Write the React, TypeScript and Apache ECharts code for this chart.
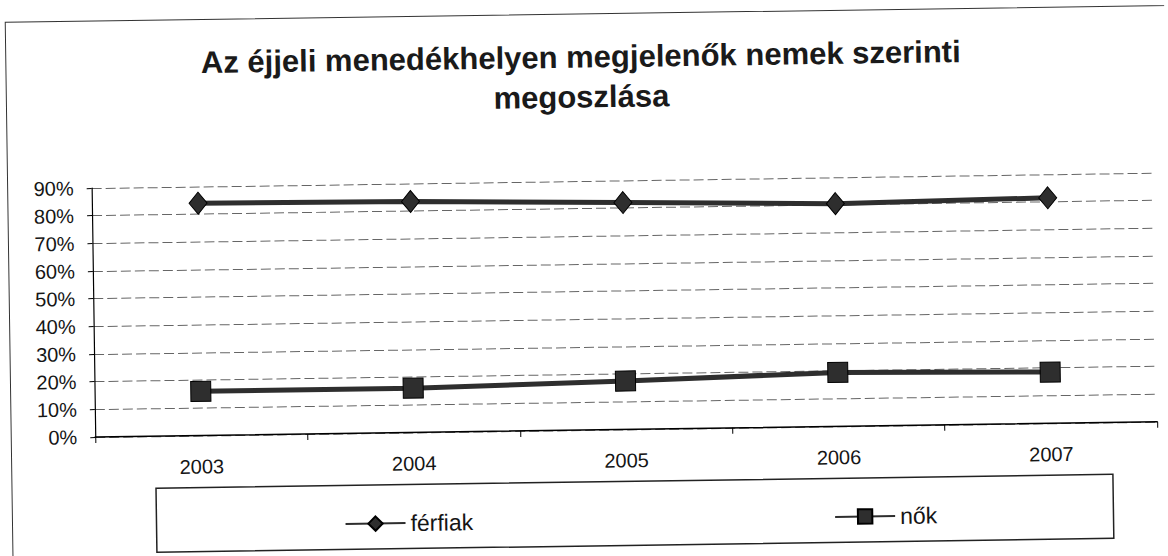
import React, { useEffect, useRef } from "react";
import * as echarts from "echarts";

const years = ["2003", "2004", "2005", "2006", "2007"];
const ferfiak = [84, 83.5, 82, 80.5, 81.5];
const nok = [16, 16, 17.5, 19.5, 18.5];
const seriesNames = ["férfiak", "nők"];
const titleText = "Az éjjeli menedékhelyen megjelenők nemek szerinti\nmegoszlása";

const FONT = "'Liberation Sans', Arial, sans-serif";

export default function App() {
  const ref = useRef<HTMLDivElement>(null);

  useEffect(() => {
    if (!ref.current) return;
    const chart = echarts.init(ref.current, undefined, { renderer: "svg" });
    chart.setOption({
      animation: false,
      backgroundColor: "#ffffff",
      textStyle: { fontFamily: FONT },
      title: {
        text: titleText,
        left: "center",
        top: 37,
        padding: 0,
        textStyle: {
          fontFamily: FONT,
          fontSize: 31,
          fontWeight: "bold",
          lineHeight: 40,
          color: "#1a1a1a",
        },
      },
      legend: {
        data: seriesNames,
        left: 336,
        top: 504,
        itemWidth: 60,
        itemHeight: 18,
        itemGap: 361,
        textStyle: { fontFamily: FONT, fontSize: 23, color: "#151515" },
      },
      grid: { left: 93, right: 13, top: 181, bottom: 126, containLabel: false },
      xAxis: {
        type: "category",
        data: years,
        axisLine: { lineStyle: { color: "#000", width: 1.5 } },
        axisTick: { show: true, length: 6, lineStyle: { color: "#000", width: 1 } },
        axisLabel: { fontFamily: FONT, fontSize: 20, color: "#151515", margin: 21 },
        splitLine: { show: false },
      },
      yAxis: {
        type: "value",
        min: 0,
        max: 90,
        interval: 10,
        axisLine: { show: true, lineStyle: { color: "#000", width: 1.2 } },
        axisTick: { show: true, length: 5, lineStyle: { color: "#000" } },
        axisLabel: {
          fontFamily: FONT,
          fontSize: 20,
          color: "#151515",
          margin: 18,
          formatter: "{value}%",
        },
        splitLine: { show: true, lineStyle: { type: [10, 4], color: "#666", width: 1 } },
      },
      graphic: [
        {
          type: "rect",
          shape: { x: 9, y: 14, width: 1300, height: 700 },
          style: { fill: "none", stroke: "#333", lineWidth: 1 },
          silent: true,
        },
        {
          type: "rect",
          shape: { x: 153, y: 482, width: 957, height: 64 },
          style: { fill: "none", stroke: "#222", lineWidth: 1.5 },
          silent: true,
        },
      ],
      series: [
        {
          name: seriesNames[0],
          type: "line",
          data: ferfiak,
          symbol: "diamond",
          symbolSize: [18, 22],
          lineStyle: { color: "#2e2e2e", width: 5 },
          itemStyle: { color: "#2e2e2e", borderColor: "#000", borderWidth: 1 },
        },
        {
          name: seriesNames[1],
          type: "line",
          data: nok,
          symbol: "rect",
          symbolSize: 20,
          lineStyle: { color: "#2e2e2e", width: 5 },
          itemStyle: { color: "#2e2e2e", borderColor: "#000", borderWidth: 1 },
        },
      ],
    });
    return () => chart.dispose();
  }, []);

  return (
    <div
      style={{
        position: "fixed",
        left: 0,
        top: 0,
        width: 1168,
        height: 556,
        overflow: "hidden",
        background: "#fff",
      }}
    >
      <div
        ref={ref}
        style={{
          width: 1168,
          height: 556,
          transform: "rotate(-0.83deg)",
          transformOrigin: "584px 278px",
        }}
      />
    </div>
  );
}
